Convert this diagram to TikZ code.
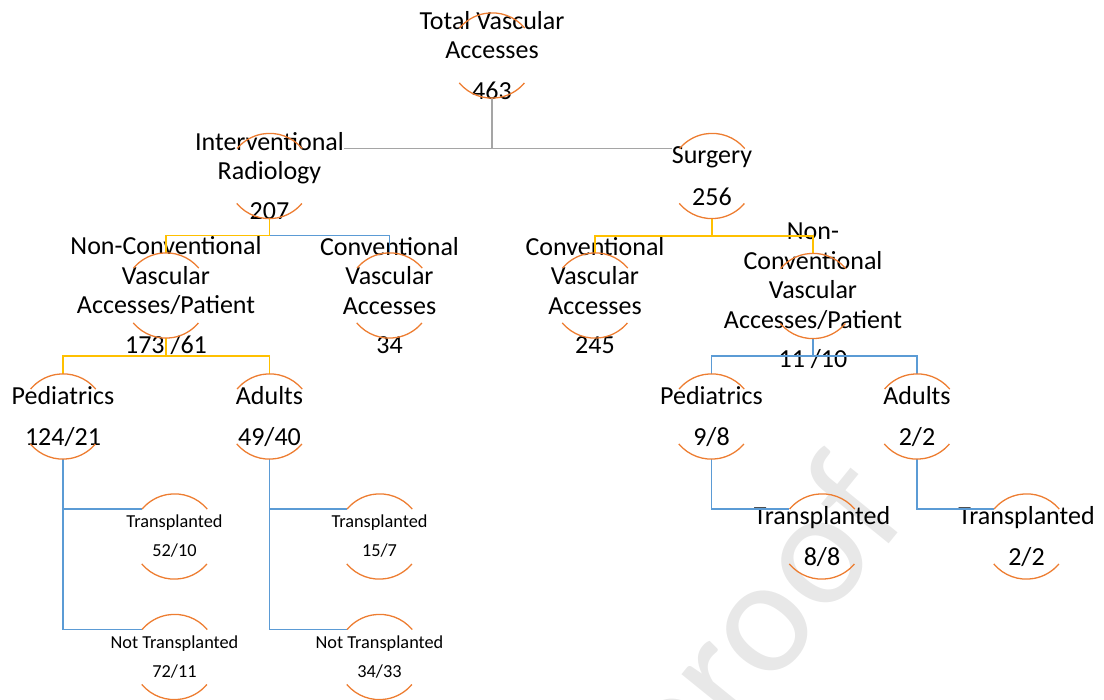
\documentclass[tikz,border=0pt]{standalone}
\usepackage{fontspec}
\setmainfont{Carlito}
\usetikzlibrary{calc}
\definecolor{arcorange}{HTML}{ED7D31}
\definecolor{lnyellow}{HTML}{FFC000}
\definecolor{lnblue}{HTML}{5B9BD5}
\definecolor{lngray}{HTML}{A5A5A5}
\tikzset{
  hub/.style={circle, minimum size=85pt, inner sep=0pt},
  bigtxt/.style={align=center, inner sep=0pt, font=\fontsize{26}{29.5}\selectfont},
  smalltxt/.style={align=center, inner sep=0pt, font=\fontsize{18.3}{29}\selectfont},
  arcline/.style={arcorange, line width=1.3pt},
  grayline/.style={lngray, line width=1.5pt},
  yelline/.style={lnyellow, line width=1.5pt},
  bluline/.style={lnblue, line width=1.5pt},
  watermark/.style={black!9, inner sep=0pt, font=\fontsize{165}{165}\selectfont}
}

\begin{document}
\begin{tikzpicture}[x=1pt, y=-1pt]
    \useasboundingbox (0,0) rectangle (1104,700);
    \node[watermark, rotate=51, anchor=base east] (wm) at (912,515) {Journal Pre-proof};

    % circles (only their arcs are drawn)
    \node[hub] (tot) at (492,55.5) {};
    \node[hub] (ir)  at (269.5,176) {};
    \node[hub] (su)  at (712,176) {};
    \node[hub] (ncl) at (166,295.5) {};
    \node[hub] (cvl) at (389.5,295.5) {};
    \node[hub] (cvr) at (595,295.5) {};
    \node[hub] (ncr) at (813,296) {};
    \node[hub] (pdl) at (63,416.5) {};
    \node[hub] (adl) at (269.5,416.5) {};
    \node[hub] (pdr) at (711.5,416.5) {};
    \node[hub] (adr) at (917,416.5) {};
    \node[hub] (trl) at (174.5,536.5) {};
    \node[hub] (ntl) at (174.5,657) {};
    \node[hub] (tra) at (379.5,536.5) {};
    \node[hub] (nta) at (379.5,657) {};
    \node[hub] (trr) at (822,536.5) {};
    \node[hub] (trs) at (1026.5,536.5) {};

    % texts
    \node[bigtxt] (totT) at (tot) {Total Vascular\\Accesses\\[11pt]463};
    \node[bigtxt] (irT)  at (ir)  {Interventional\\Radiology\\[10pt]207};
    \node[bigtxt] (suT)  at (su)  {Surgery\\[12pt]256};
    \node[bigtxt] (nclT) at (ncl) {Non-Conventional\\Vascular\\Accesses/Patient\\[10pt]173 /61};
    \node[bigtxt] (cvlT) at (cvl) {Conventional\\Vascular\\Accesses\\[10pt]34};
    \node[bigtxt] (cvrT) at (cvr) {Conventional\\Vascular\\Accesses\\[10pt]245};
    \node[bigtxt] (ncrT) at (ncr) {Non-\\Conventional\\Vascular\\Accesses/Patient\\[10pt]11 /10};
    \node[bigtxt] (pdlT) at (pdl) {Pediatrics\\[12pt]124/21};
    \node[bigtxt] (adlT) at (adl) {Adults\\[12pt]49/40};
    \node[bigtxt] (pdrT) at (pdr) {Pediatrics\\[12pt]9/8};
    \node[bigtxt] (adrT) at (adr) {Adults\\[12pt]2/2};
    \node[smalltxt] (trlT) at (trl) {Transplanted\\52/10};
    \node[smalltxt] (ntlT) at (ntl) {Not Transplanted\\72/11};
    \node[smalltxt] (traT) at (tra) {Transplanted\\15/7};
    \node[smalltxt] (ntaT) at (nta) {Not Transplanted\\34/33};
    \node[bigtxt] (trrT) at (trr) {Transplanted\\[12pt]8/8};
    \node[bigtxt] (trsT) at (trs) {Transplanted\\[12pt]2/2};

    % connectors
    \draw[grayline] (tot.south) |- (ir.140 -| irT.east);
    \draw[grayline] (tot.south) |- (su.140 -| suT.west);
    \draw[bluline] (ir.south) -- ++(0,17) -| (cvl.north);
    \draw[yelline] (ir.south) -- ++(0,17) -| (ncl.north);
    \draw[yelline] (su.south) -- ++(0,17.5) -| (cvr.north);
    \draw[yelline] (su.south) -- ++(0,17.5) -| (ncr.north);
    \draw[yelline] (ncl.south) -- ++(0,18) -| (pdl.north);
    \draw[yelline] (ncl.south) -- ++(0,18) -| (adl.north);
    \draw[bluline] (ncr.south) -- ++(0,17.5) -| (pdr.north);
    \draw[bluline] (ncr.south) -- ++(0,17.5) -| (adr.north);
    \draw[bluline] (pdl.south) |- (trl.140);
    \draw[bluline] (pdl.south) |- (ntl.140);
    \draw[bluline] (adl.south) |- (tra.140);
    \draw[bluline] (adl.south) |- (nta.140);
    \draw[bluline] (pdr.south) |- (trr.140);
    \draw[bluline] (adr.south) |- (trs.140);

    % top and bottom arcs
    \foreach \n in {tot,ir,su,ncl,cvl,cvr,ncr,pdl,adl,pdr,adr,trl,ntl,tra,nta,trr,trs}{
        \draw[arcline] (\n.40) arc[start angle=-40, end angle=-140, radius=42.5];
        \draw[arcline] (\n.220) arc[start angle=-220, end angle=-320, radius=42.5];
    }
\end{tikzpicture}
\end{document}
